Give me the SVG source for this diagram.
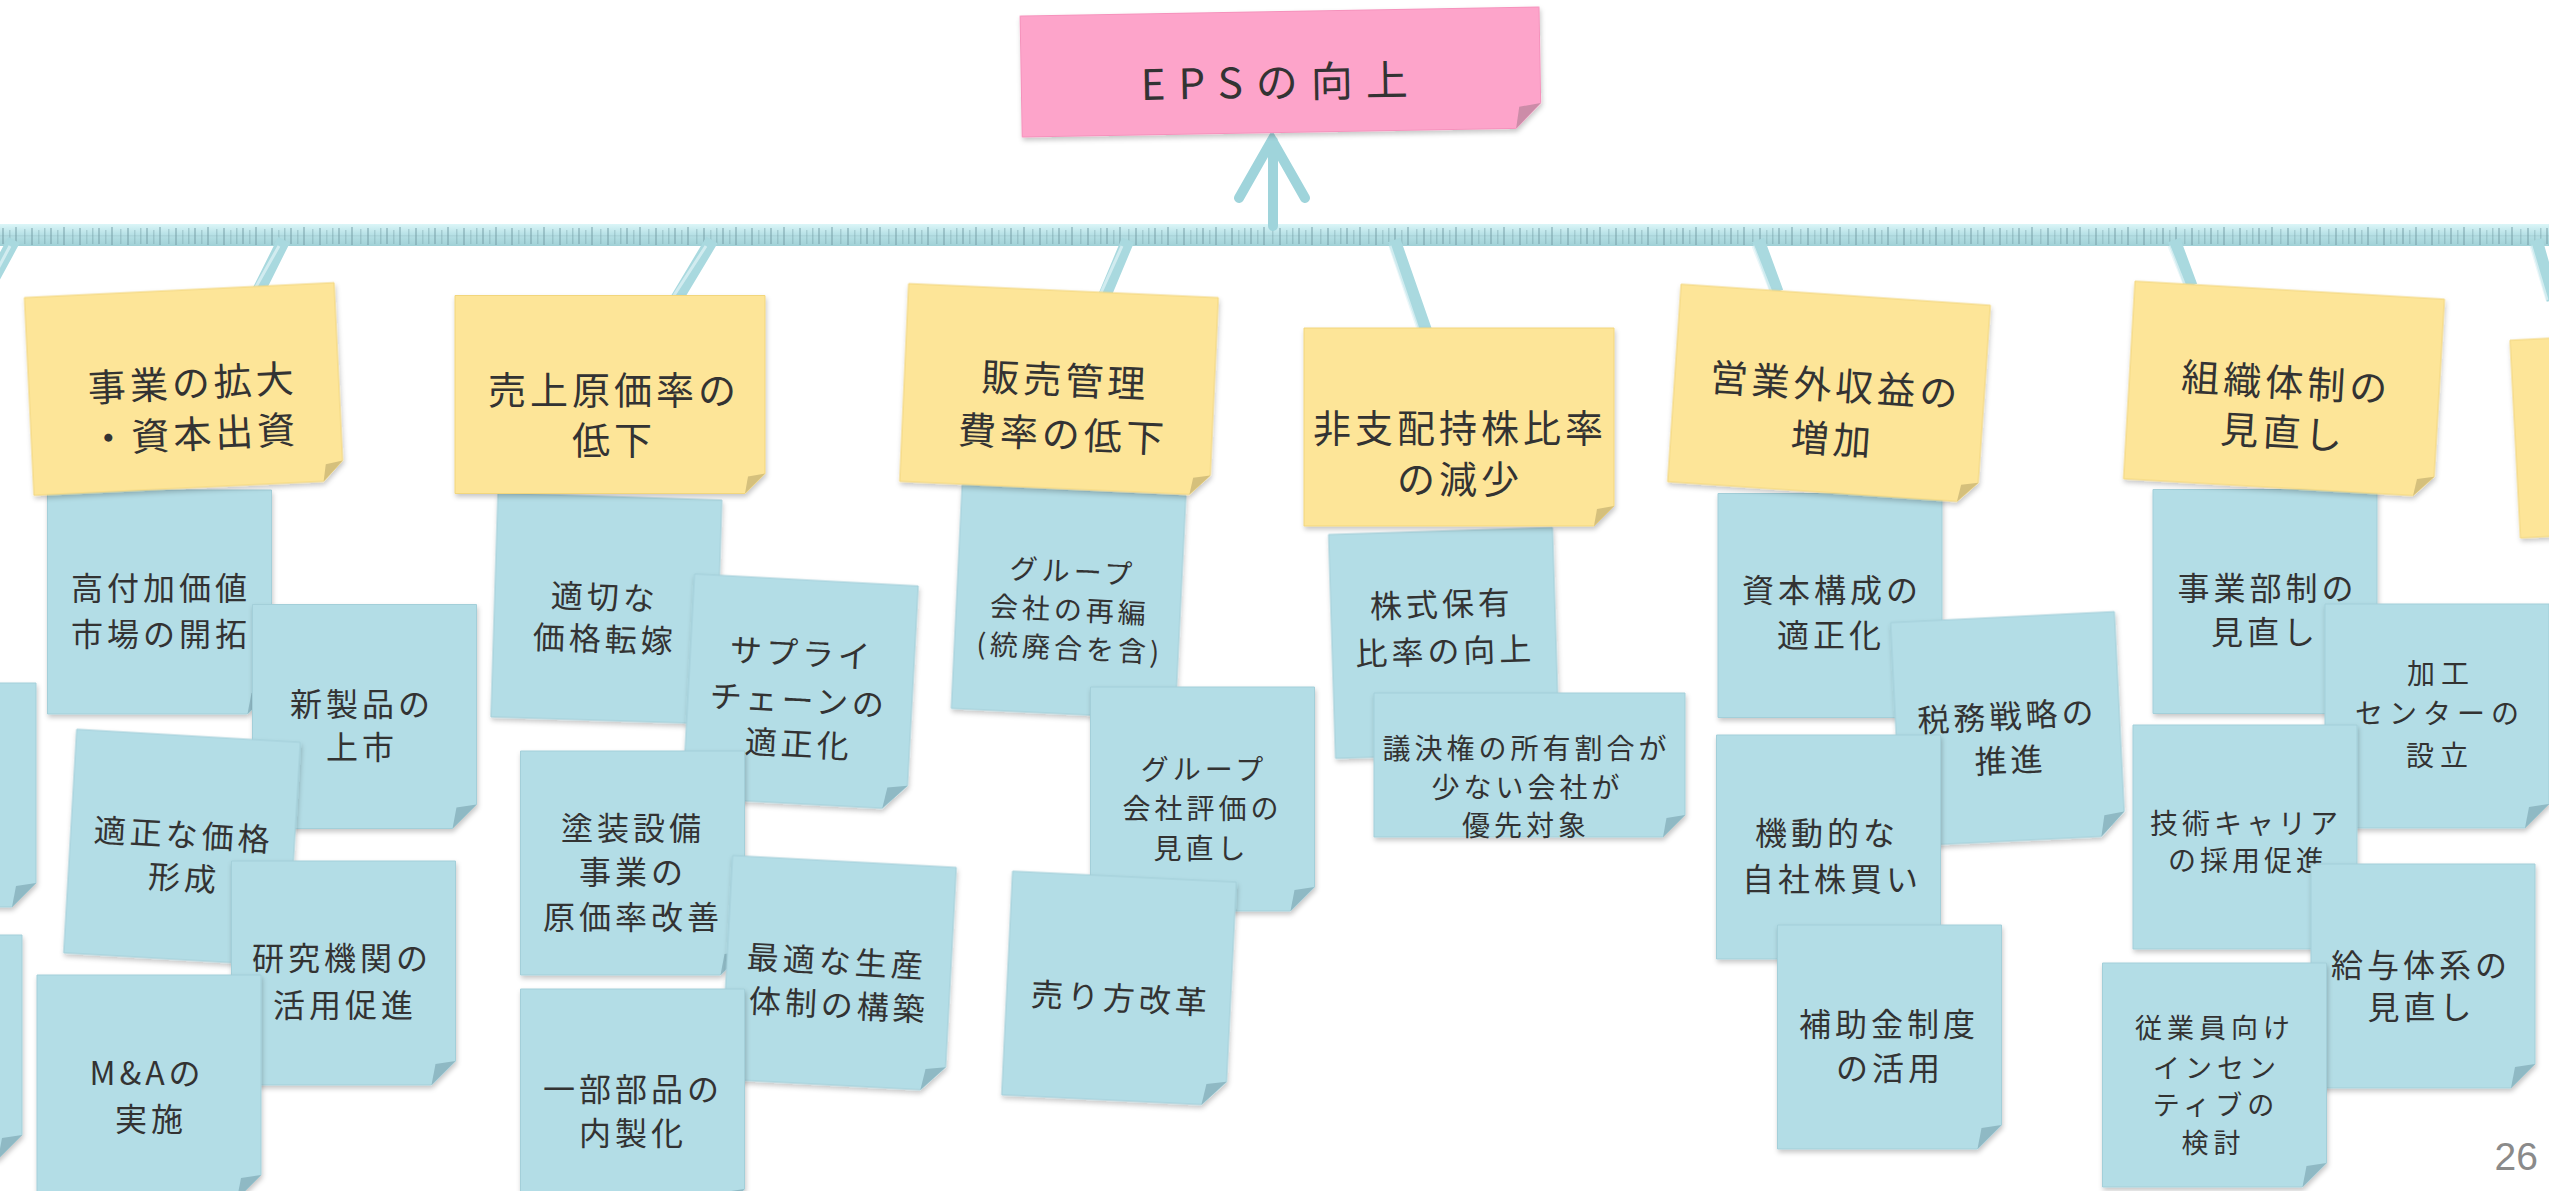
<svg xmlns="http://www.w3.org/2000/svg" xmlns:xlink="http://www.w3.org/1999/xlink" width="2549" height="1191" viewBox="0 0 2549 1191">
<style>
.y{fill:#fde598;stroke:#f2d67c;stroke-width:1}
.b{fill:#b3dde6;stroke:#a3cfd9;stroke-width:1}
.p{fill:#fda4ca;stroke:#f592bc;stroke-width:1}
.fy{fill:#d5c07c}
.fb{fill:#8fb9c4}
.fp{fill:#cc8ca8}
.t{font-family:"Noto Sans CJK JP","Noto Sans CJK SC",sans-serif;fill:#333;text-anchor:middle;dominant-baseline:central}
.ty{font-size:38px;letter-spacing:4px}
.tb{font-size:32px;letter-spacing:4px}
.ts{font-size:28px;letter-spacing:4px}
.cn{stroke:#a9d9df;stroke-width:13;fill:none}
.cnh{stroke:#e2f4f7;stroke-width:3;fill:none;opacity:.7}
.ar{stroke:#9fd4db;stroke-width:10;fill:none;stroke-linecap:round}
</style>
<defs>
<filter id="sh" x="-10%" y="-10%" width="125%" height="130%">
<feDropShadow dx="1" dy="3" stdDeviation="2.5" flood-color="#000" flood-opacity="0.22"/>
</filter>
<linearGradient id="barg" x1="0" y1="0" x2="0" y2="1">
<stop offset="0" stop-color="#dbf6f8"/>
<stop offset="0.45" stop-color="#b9e2e7"/>
<stop offset="1" stop-color="#a0d0d6"/>
</linearGradient>
<pattern id="barp" patternUnits="userSpaceOnUse" x="0" y="224" width="48" height="22">
<rect x="2" y="4" width="2" height="16" fill="#6f98a1" opacity="0.45"/>
<rect x="9" y="6" width="1.5" height="14" fill="#6f98a1" opacity="0.35"/>
<rect x="15" y="3" width="2" height="18" fill="#6f98a1" opacity="0.45"/>
<rect x="24" y="5" width="1.5" height="15" fill="#6f98a1" opacity="0.35"/>
<rect x="31" y="4" width="2" height="17" fill="#6f98a1" opacity="0.45"/>
<rect x="38" y="6" width="1.5" height="14" fill="#6f98a1" opacity="0.3"/>
<rect x="44" y="4" width="1.5" height="16" fill="#6f98a1" opacity="0.4"/>
<rect x="0" y="11" width="48" height="1.5" fill="#6f98a1" opacity="0.15"/>
</pattern>
<path id="bnote" d="M-112,-112 H112 V88 L88,112 H-112 Z"/>
<path id="bfold" d="M112,88 L88,112 L92,91 Z"/>
<path id="ynote" d="M-155,-99 H155 V79 L135,99 H-155 Z"/>
<path id="yfold" d="M155,79 L135,99 L138,82 Z"/>
</defs>
<rect width="2549" height="1191" fill="#fff"/>

<g id="connectors">
<rect x="0" y="224" width="2549" height="22" fill="url(#barg)"/>
<rect x="0" y="224" width="2549" height="22" fill="url(#barp)"/>
<path class="cn" d="M14,240 L-6,277 M284,240 L258,292 M712,240 L676,300 M1128,240 L1105,295 M1394,240 L1426,332 M1758,240 L1777,292 M2174,240 L2191,286 M2536,240 L2553,300"/>
<path class="cnh" d="M10,246 L-8,280 M279,246 L253,292 M706,246 L671,300 M1122,246 L1100,295 M1390,246 L1419,332 M1753,246 L1771,292 M2169,246 L2185,286 M2531,246 L2547,300"/>
<path class="ar" d="M1273,226 V141 M1239,198 L1272,140 L1305,198"/>
</g>

<g id="title-eps" transform="translate(1280.6,72) rotate(-1)">
<path class="p" filter="url(#sh)" d="M-259.5,-60.5 H259.5 V35.5 L234.5,60.5 H-259.5 Z"/>
<path class="fp" d="M259.5,35.5 L234.5,60.5 L238,39 Z"/>
<text class="t" x="0" y="7" style="font-size:42px;letter-spacing:13px">EPSの向上</text>
</g>

<g id="left-partial-1" transform="translate(-76,795)"><use href="#bnote" class="b" filter="url(#sh)"/><use href="#bfold" class="fb"/></g>
<g id="left-partial-2" transform="translate(-90,1047)"><use href="#bnote" class="b" filter="url(#sh)"/><use href="#bfold" class="fb"/></g>

<g id="n-kofuka" transform="translate(159.5,602)"><use href="#bnote" class="b" filter="url(#sh)"/><use href="#bfold" class="fb"/>
<text class="t tb" x="1.5" y="-16">高付加価値</text><text class="t tb" x="1.5" y="30">市場の開拓</text></g>
<g id="n-shinseihin" transform="translate(364.5,716.5)"><use href="#bnote" class="b" filter="url(#sh)"/><use href="#bfold" class="fb"/>
<text class="t tb" x="-2.5" y="-14.5">新製品の</text><text class="t tb" x="-2.5" y="28.5">上市</text></g>
<g id="n-kakaku" transform="translate(182,847.6) rotate(3.34)"><use href="#bnote" class="b" filter="url(#sh)"/><use href="#bfold" class="fb"/>
<text class="t tb" x="1" y="-15">適正な価格</text><text class="t tb" x="4" y="28">形成</text></g>
<g id="n-kenkyu" transform="translate(343.5,973)"><use href="#bnote" class="b" filter="url(#sh)"/><use href="#bfold" class="fb"/>
<text class="t tb" x="-1.5" y="-17">研究機関の</text><text class="t tb" x="1.5" y="30">活用促進</text></g>
<g id="n-ma" transform="translate(149,1087)"><use href="#bnote" class="b" filter="url(#sh)"/><use href="#bfold" class="fb"/>
<text class="t tb" x="-2" y="-16">M&amp;Aの</text><text class="t tb" x="2" y="30">実施</text></g>

<g id="n-tenka" transform="translate(606.4,608.5) rotate(1.8)"><use href="#bnote" class="b" filter="url(#sh)"/><use href="#bfold" class="fb"/>
<text class="t tb" x="-2" y="-13.5">適切な</text><text class="t tb" x="-0.5" y="28.5">価格転嫁</text></g>
<g id="n-supply" transform="translate(800.4,691.8) rotate(3.08)"><use href="#bnote" class="b" filter="url(#sh)"/><use href="#bfold" class="fb"/>
<text class="t tb" x="-0.6" y="-40.7">サプライ</text><text class="t tb" x="-1.1" y="6.4">チェーンの</text><text class="t tb" x="1.3" y="50">適正化</text></g>
<g id="n-tosou" transform="translate(632.5,863)"><use href="#bnote" class="b" filter="url(#sh)"/><use href="#bfold" class="fb"/>
<text class="t tb" x="0.5" y="-37">塗装設備</text><text class="t tb" x="0.5" y="7">事業の</text><text class="t tb" x="0.5" y="51.5">原価率改善</text></g>
<g id="n-seisan" transform="translate(838.5,973.3) rotate(3.05)"><use href="#bnote" class="b" filter="url(#sh)"/><use href="#bfold" class="fb"/>
<text class="t tb" x="-2.3" y="-14">最適な生産</text><text class="t tb" x="2" y="29.6">体制の構築</text></g>
<g id="n-naisei" transform="translate(632.5,1101)"><use href="#bnote" class="b" filter="url(#sh)"/><use href="#bfold" class="fb"/>
<text class="t tb" x="0.5" y="-14">一部部品の</text><text class="t tb" x="0.5" y="30">内製化</text></g>

<g id="n-saihen" transform="translate(1068.6,602) rotate(2.79)"><use href="#bnote" class="b" filter="url(#sh)"/><use href="#bfold" class="fb"/>
<text class="t ts" x="2.8" y="-32.5">グループ</text><text class="t ts" x="1.7" y="6">会社の再編</text><text class="t ts" x="3.6" y="44.4">(統廃合を含)</text></g>
<g id="n-hyouka" transform="translate(1202.5,799)"><use href="#bnote" class="b" filter="url(#sh)"/><use href="#bfold" class="fb"/>
<text class="t ts" x="1.5" y="-31">グループ</text><text class="t ts" x="0" y="8">会社評価の</text><text class="t ts" x="-1" y="48">見直し</text></g>
<g id="n-urikata" transform="translate(1119,988.5) rotate(2.8)"><use href="#bnote" class="b" filter="url(#sh)"/><use href="#bfold" class="fb"/>
<text class="t tb" x="2.4" y="7.5">売り方改革</text></g>

<g id="n-kabushiki" transform="translate(1444,643) rotate(-1.78)"><use href="#bnote" class="b" filter="url(#sh)"/><use href="#bfold" class="fb"/>
<text class="t tb" x="-1" y="-41">株式保有</text><text class="t tb" x="1" y="6">比率の向上</text></g>
<g id="n-giketsu" transform="translate(1529.5,765)">
<path class="b" filter="url(#sh)" d="M-155.5,-72 H155.5 V50 L133.5,72 H-155.5 Z"/>
<path class="fb" d="M155.5,50 L133.5,72 L137,53 Z"/>
<text class="t ts" x="-3" y="-18">議決権の所有割合が</text><text class="t ts" x="-2" y="21">少ない会社が</text><text class="t ts" x="-3.5" y="59">優先対象</text></g>

<g id="n-shihon" transform="translate(1830,605.5)"><use href="#bnote" class="b" filter="url(#sh)"/><use href="#bfold" class="fb"/>
<text class="t tb" x="2" y="-17.5">資本構成の</text><text class="t tb" x="1" y="27">適正化</text></g>
<g id="n-zeimu" transform="translate(2008,729) rotate(-2.82)"><use href="#bnote" class="b" filter="url(#sh)"/><use href="#bfold" class="fb"/>
<text class="t tb" x="0" y="-15">税務戦略の</text><text class="t tb" x="1" y="29">推進</text></g>
<g id="n-jishakabu" transform="translate(1828.5,847)"><use href="#bnote" class="b" filter="url(#sh)"/><use href="#bfold" class="fb"/>
<text class="t tb" x="-1.5" y="-16.5">機動的な</text><text class="t tb" x="3.5" y="30">自社株買い</text></g>
<g id="n-hojokin" transform="translate(1889.5,1037)"><use href="#bnote" class="b" filter="url(#sh)"/><use href="#bfold" class="fb"/>
<text class="t tb" x="-0.5" y="-15">補助金制度</text><text class="t tb" x="0.5" y="29">の活用</text></g>

<g id="n-jigyobu" transform="translate(2265,601.5)"><use href="#bnote" class="b" filter="url(#sh)"/><use href="#bfold" class="fb"/>
<text class="t tb" x="2.5" y="-15.5">事業部制の</text><text class="t tb" x="0" y="28.5">見直し</text></g>
<g id="n-kakou" transform="translate(2437,716)"><use href="#bnote" class="b" filter="url(#sh)"/><use href="#bfold" class="fb"/>
<text class="t ts" x="4" y="-44" style="letter-spacing:6px">加工</text><text class="t ts" x="3" y="-4" style="letter-spacing:6px">センターの</text><text class="t ts" x="3" y="38" style="letter-spacing:6px">設立</text></g>
<g id="n-career" transform="translate(2245,837)"><use href="#bnote" class="b" filter="url(#sh)"/><use href="#bfold" class="fb"/>
<text class="t ts" x="1" y="-15">技術キャリア</text><text class="t ts" x="3" y="22">の採用促進</text></g>
<g id="n-kyuyo" transform="translate(2423,976)"><use href="#bnote" class="b" filter="url(#sh)"/><use href="#bfold" class="fb"/>
<text class="t tb" x="-2" y="-13.5">給与体系の</text><text class="t tb" x="-1.5" y="29">見直し</text></g>
<g id="n-incentive" transform="translate(2214.5,1075)"><use href="#bnote" class="b" filter="url(#sh)"/><use href="#bfold" class="fb"/>
<text class="t" x="0.5" y="-49" style="font-size:27px;letter-spacing:5px">従業員向け</text><text class="t" x="2.5" y="-9" style="font-size:27px;letter-spacing:5px">インセン</text><text class="t" x="1.5" y="28.5" style="font-size:27px;letter-spacing:5px">ティブの</text><text class="t" x="-1" y="66" style="font-size:27px;letter-spacing:5px">検討</text></g>

<g id="y-jigyo" transform="translate(184,389) rotate(-2.76)"><use href="#ynote" class="y" filter="url(#sh)"/><use href="#yfold" class="fy"/>
<text class="t ty" x="9" y="-8">事業の拡大</text><text class="t ty" x="8" y="43">・資本出資</text></g>
<g id="y-genka" transform="translate(610,394.5)"><use href="#ynote" class="y" filter="url(#sh)"/><use href="#yfold" class="fy"/>
<text class="t ty" x="4" y="-7.5">売上原価率の</text><text class="t ty" x="4" y="42.5">低下</text></g>
<g id="y-hanbai" transform="translate(1059,389.5) rotate(2.59)"><use href="#ynote" class="y" filter="url(#sh)"/><use href="#yfold" class="fy"/>
<text class="t ty" x="6" y="-12">販売管理</text><text class="t ty" x="6" y="42">費率の低下</text></g>
<g id="y-hishihai" transform="translate(1459,427)"><use href="#ynote" class="y" filter="url(#sh)"/><use href="#yfold" class="fy"/>
<text class="t ty" x="1" y="-2">非支配持株比率</text><text class="t ty" x="1" y="49">の減少</text></g>
<g id="y-eigyogai" transform="translate(1829,393.5) rotate(3.9)"><use href="#ynote" class="y" filter="url(#sh)"/><use href="#yfold" class="fy"/>
<text class="t ty" x="6" y="-11">営業外収益の</text><text class="t ty" x="7" y="43">増加</text></g>
<g id="y-soshiki" transform="translate(2284,389) rotate(3.33)"><use href="#ynote" class="y" filter="url(#sh)"/><use href="#yfold" class="fy"/>
<text class="t ty" x="2" y="-9">組織体制の</text><text class="t ty" x="2" y="41">見直し</text></g>
<g id="y-right-partial" transform="translate(2670,431) rotate(-3)"><use href="#ynote" class="y" filter="url(#sh)"/><use href="#yfold" class="fy"/></g>

<text id="page-number" x="2538" y="1170" font-family="Liberation Sans, Arial, sans-serif" font-size="39" fill="#8a8a8a" text-anchor="end">26</text>
</svg>
